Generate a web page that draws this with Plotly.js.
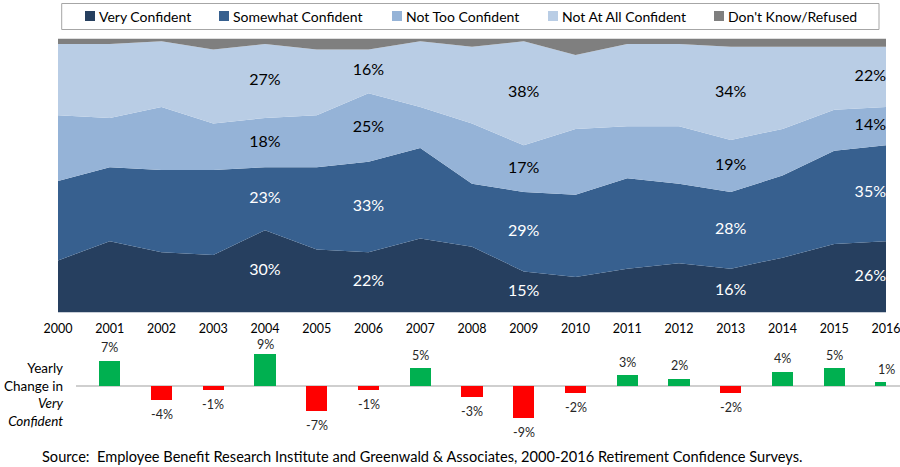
<!DOCTYPE html>
<html>
<head>
<meta charset="utf-8">
<script src="https://cdn.plot.ly/plotly-3.0.1.min.js"></script>
<style>html,body{margin:0;padding:0;background:#fff;}#chart{width:900px;height:467px;}</style>
</head>
<body>
<div id="chart"></div>
<script>
// ---- data ----
var years = [2000,2001,2002,2003,2004,2005,2006,2007,2008,2009,2010,2011,2012,2013,2014,2015,2016];
var veryConfident     = [19,26,22,21,30,23,22,27,24,15,13,16,18,16,20,25,26];
var somewhatConfident = [29,27,30,31,23,30,33,33,23,29,30,33,29,28,30,34,35];
var notTooConfident   = [24,18,23,17,18,19,25,15,22,17,24,19,21,19,17,15,14];
var notAtAllConfident = [26,27,24,27,27,24,16,24,28,38,27,30,30,34,30,23,22];
var dontKnowRefused   = [2,2,1,4,2,4,4,1,3,1,6,2,2,3,3,3,3];
var seriesNames = ['Very Confident','Somewhat Confident','Not Too Confident','Not At All Confident',"Don't Know/Refused"];
var labelYears = [2004,2006,2009,2013,2016];
var changeYears = [2001,2002,2003,2004,2005,2006,2007,2008,2009,2010,2011,2012,2013,2014,2015,2016];
var yearlyChange = [7,-4,-1,9,-7,-1,5,-3,-9,-2,3,2,-2,4,5,1];

// ---- styles ----
var FONT = 'Lato, "Open Sans", sans-serif';
var colors = ['#263F5F','#37608F','#95B3D7','#B9CDE5','#7F7F7F'];
var labelColors = ['#FFFFFF','#FFFFFF','#000000','#000000'];
var W = 900, H = 467;
function px(x){return x/W;}
function py(y){return 1 - y/H;}

var series = [veryConfident, somewhatConfident, notTooConfident, notAtAllConfident, dontKnowRefused];
var traces = [];
series.forEach(function(vals, i){
  traces.push({
    type:'scatter', x:years, y:vals, name:seriesNames[i], stackgroup:'one',
    mode:'none', fillcolor:colors[i], line:{width:0}, showlegend:false,
    hoverinfo:'name+y', xaxis:'x', yaxis:'y'
  });
});

// segment labels
for (var s=0; s<4; s++){
  var lx=[], ly=[], lt=[], lp=[];
  labelYears.forEach(function(yr){
    var idx = years.indexOf(yr);
    var base = 0;
    for (var k=0;k<s;k++) base += series[k][idx];
    lx.push(yr); ly.push(base + series[s][idx]/2); lt.push(series[s][idx]+'%');
    lp.push(yr===2016 ? 'middle left' : 'middle center');
  });
  traces.push({
    type:'scatter', mode:'text', x:lx, y:ly, text:lt, textposition:lp,
    textfont:{family:FONT, size:16, color:labelColors[s]}, showlegend:false,
    hoverinfo:'skip', cliponaxis:false, xaxis:'x', yaxis:'y'
  });
}

// yearly change bars
traces.push({
  type:'bar', x:changeYears, y:yearlyChange, xaxis:'x2', yaxis:'y2', width:0.41,
  marker:{color:yearlyChange.map(function(v){return v>=0?'#00B050':'#FF0000';})},
  showlegend:false, hoverinfo:'x+y'
});

var xDomain = [px(58), px(886)];
var layout = {
  width:W, height:H, margin:{l:0,r:0,t:0,b:0}, paper_bgcolor:'#FFFFFF', plot_bgcolor:'rgba(0,0,0,0)',
  font:{family:FONT, color:'#000000'},
  showlegend:false,
  xaxis:{domain:xDomain, range:[2000,2016], tickvals:years, ticktext:years.map(String), showgrid:false,
         zeroline:false, showline:false, ticks:'', ticklabelstandoff:7, ticklabeloverflow:'allow',
         tickfont:{family:FONT,size:12.5,color:'#000'}, fixedrange:true},
  yaxis:{domain:[py(312.5), py(38.5)], range:[0,100], visible:false, fixedrange:true},
  xaxis2:{domain:xDomain, range:[2000,2016], visible:false, anchor:'y2', fixedrange:true},
  yaxis2:{domain:[py(428.9), py(343.1)], range:[-12,12], visible:false, anchor:'x2', fixedrange:true},
  bargap:0,
  shapes:[
    {type:'line', xref:'paper', yref:'y2', x0:px(76), x1:1, y0:0, y1:0, line:{color:'#BFBFBF', width:1.5}, layer:'below'},
    {type:'rect', xref:'paper', yref:'paper', x0:px(61.7), x1:px(879), y0:py(29.5), y1:py(3.5), line:{color:'#A6A6A6', width:1}, fillcolor:'rgba(0,0,0,0)'}
  ],
  annotations:[
    {xref:'paper', yref:'paper', x:px(66), y:py(394), xanchor:'right', yanchor:'middle', align:'right', showarrow:false,
     text:'Yearly<br>Change in<br><i>Very</i><br><i>Confident</i>', font:{family:FONT, size:13.5, color:'#000'}},
    {xref:'paper', yref:'paper', x:px(40), y:py(456), xanchor:'left', yanchor:'middle', showarrow:false,
     text:'Source:  Employee Benefit Research Institute and Greenwald &amp; Associates, 2000-2016 Retirement Confidence Surveys.',
     font:{family:FONT, size:14.6, color:'#000'}}
  ]
};

// bar value labels
changeYears.forEach(function(yr, i){
  var v = yearlyChange[i];
  layout.annotations.push({xref:'x2', yref:'y2', x:yr, y:v, xanchor:'center', yanchor:'middle', borderpad:0,
    yshift: v>=0 ? (v>8 ? 9.5 : 13) : -14.5, showarrow:false, text:v+'%', font:{family:FONT, size:12.5, color:'#262626'}});
});

// manual legend
var legMarkX = [85, 219, 392, 548, 714];
seriesNames.forEach(function(n, i){
  layout.shapes.push({type:'rect', xref:'paper', yref:'paper', x0:px(legMarkX[i]), x1:px(legMarkX[i]+10), y0:py(21), y1:py(11),
    line:{width:0}, fillcolor:colors[i]});
  layout.annotations.push({xref:'paper', yref:'paper', x:px(legMarkX[i]+12), y:py(16), xanchor:'left', yanchor:'middle',
    showarrow:false, text:n, font:{family:FONT, size:14, color:'#000'}});
});

Plotly.newPlot('chart', traces, layout, {displayModeBar:false, staticPlot:true});
</script>
</body>
</html>
